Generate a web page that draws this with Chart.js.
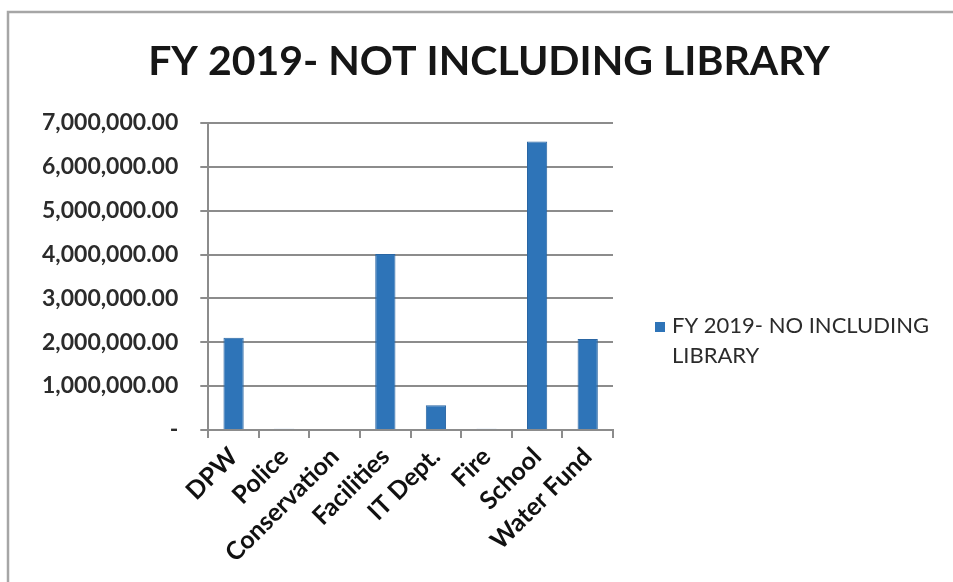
<!DOCTYPE html>
<html>
<head>
<meta charset="utf-8">
<title>FY 2019- NOT INCLUDING LIBRARY</title>
<script src="https://cdn.jsdelivr.net/npm/chart.js@4/dist/chart.umd.min.js"></script>
<style>
  html, body { margin: 0; padding: 0; background: #fff; }
  canvas { display: block; }
</style>
</head>
<body>
<canvas id="chart" width="953" height="582"></canvas>
<script>
const departments = ["DPW", "Police", "Conservation", "Facilities", "IT Dept.", "Fire", "School", "Water Fund"];
const amounts = [2100000, 25000, 20000, 4010000, 560000, 25000, 6580000, 2075000];
const seriesName = "FY 2019- NO INCLUDING LIBRARY";
const legendLines = ["FY 2019- NO INCLUDING", "LIBRARY"];
const chartTitle = "FY 2019- NOT INCLUDING LIBRARY";

const barBlue = "#2e74b8";
const gridGray = "#8c8c8c";
const textGray = "#2b2b2b";

function money(v) {
    if (v === 0) return "-";
    return v.toLocaleString("en-US", { minimumFractionDigits: 2, maximumFractionDigits: 2 });
}

// frame, heading and side legend drawn around the plot
const extras = {
    id: "extras",
    beforeDraw(chart) {
        const ctx = chart.ctx;
        ctx.save();
        ctx.fillStyle = "#fff";
        ctx.fillRect(0, 0, chart.width, chart.height);
        ctx.strokeStyle = "#a6a6a6";
        ctx.lineWidth = 2.5;
        ctx.strokeRect(8, 12, chart.width + 10, chart.height + 10);
        ctx.restore();
    },
    afterDraw(chart) {
        const ctx = chart.ctx;
        const area = chart.chartArea;
        ctx.save();
        ctx.fillStyle = "#161616";
        ctx.font = "bold 41px Lato";
        ctx.textAlign = "center";
        ctx.textBaseline = "middle";
        ctx.fillText(chartTitle, 489, 62);

        const x = area.right + 42;
        const y = 326;
        ctx.fillStyle = barBlue;
        ctx.fillRect(x, y - 4, 10, 10);
        ctx.fillStyle = textGray;
        ctx.font = "22px Lato";
        ctx.textAlign = "left";
        legendLines.forEach((line, i) => ctx.fillText(line, x + 17, y + i * 30));
        ctx.restore();
    }
};

new Chart(document.getElementById("chart"), {
    type: "bar",
    data: {
        labels: departments,
        datasets: [{
            label: seriesName,
            data: amounts,
            backgroundColor: barBlue,
            borderColor: "#2a66a3",
            borderWidth: 1,
            barPercentage: 0.8,
            categoryPercentage: 0.5
        }]
    },
    options: {
        responsive: false,
        animation: false,
        layout: { padding: { left: 20, right: 340, top: 123, bottom: 10 } },
        plugins: {
            legend: { display: false },
            tooltip: { enabled: false },
            title: { display: false }
        },
        scales: {
            x: {
                grid: { display: true, drawOnChartArea: false, color: gridGray, lineWidth: 2, tickLength: 8, offset: true },
                border: { color: gridGray, width: 2 },
                ticks: {
                    color: "#111",
                    font: { family: "Lato", size: 25, weight: "bold" },
                    maxRotation: 45,
                    minRotation: 45,
                    padding: 4
                }
            },
            y: {
                min: 0,
                max: 7000000,
                ticks: {
                    stepSize: 1000000,
                    color: textGray,
                    font: { family: "Lato", size: 23, weight: "bold" },
                    padding: 22,
                    callback: v => money(v)
                },
                grid: { color: gridGray, lineWidth: 2, tickLength: 8 },
                border: { color: gridGray, width: 2 }
            }
        }
    },
    plugins: [extras]
});
</script>
</body>
</html>
